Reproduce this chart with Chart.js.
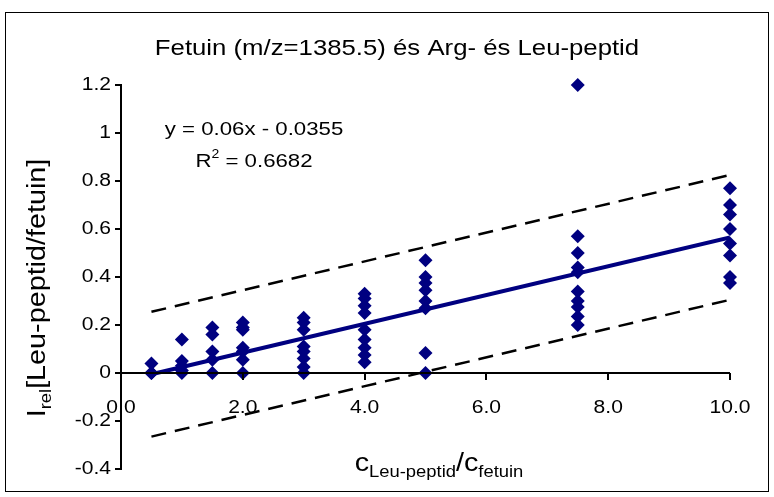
<!DOCTYPE html>
<html>
<head>
<meta charset="utf-8">
<script src="https://cdn.jsdelivr.net/npm/chart.js@4.4.1/dist/chart.umd.min.js"></script>
<style>
  body { margin: 0; background: #fff; }
  canvas { display: block; }
</style>
</head>
<body>
<canvas id="myChart" width="774" height="497"></canvas>
<script>
// measured points, grouped by concentration ratio
const conc = [0.5, 1, 1.5, 2, 3, 4, 5, 7.5, 10];
const irel_05 = [0.04, 0.0, 0.0];
const irel_1 = [0.14, 0.05, 0.03, 0.01, 0.0];
const irel_15 = [0.19, 0.16, 0.09, 0.055, 0.0];
const irel_2 = [0.21, 0.19, 0.18, 0.105, 0.09, 0.055, 0.0];
const irel_3 = [0.23, 0.21, 0.18, 0.11, 0.09, 0.06, 0.025, 0.0];
const irel_4 = [0.33, 0.31, 0.28, 0.25, 0.18, 0.14, 0.105, 0.075, 0.045];
const irel_5 = [0.47, 0.4, 0.375, 0.345, 0.3, 0.27, 0.083, 0.0];
const irel_75 = [1.2, 0.57, 0.5, 0.44, 0.42, 0.34, 0.3, 0.275, 0.235, 0.2];
const irel_10 = [0.77, 0.7, 0.66, 0.6, 0.54, 0.49, 0.4, 0.375];
const irelGroups = [irel_05, irel_1, irel_15, irel_2, irel_3, irel_4, irel_5, irel_75, irel_10];

// trend line and band ends (x from 0.5 to 10)
const lineX = [0.5, 10];
const trendY = [-0.0055, 0.5645];
const upperY = [0.255, 0.825];
const lowerY = [-0.265, 0.305];

const xTicks = [0, 2, 4, 6, 8, 10];
const yTicks = [-0.4, -0.2, 0, 0.2, 0.4, 0.6, 0.8, 1, 1.2];

const FONT = "'Liberation Sans', Arial, sans-serif";
const SX = 1.17; // text in the original is a bit wider than it is tall

const points = [];
conc.forEach((c, i) => {
  irelGroups[i].forEach((v) => points.push({ x: c, y: v }));
});
const toXY = (ys) => lineX.map((x, i) => ({ x: x, y: ys[i] }));

// draws text made of runs (sub/superscripts), stretched by sx
function drawRuns(ctx, runs, x, y, align, sx) {
  let total = 0;
  runs.forEach((r) => {
    ctx.font = r.size + "px " + FONT;
    r.w = ctx.measureText(r.t).width;
    total += r.w;
  });
  ctx.save();
  ctx.translate(x, y);
  ctx.scale(sx, 1);
  ctx.textAlign = "left";
  let cx = 0;
  if (align === "center") cx = -total / 2;
  if (align === "right") cx = -total;
  runs.forEach((r) => {
    ctx.font = r.size + "px " + FONT;
    ctx.fillText(r.t, cx, r.dy || 0);
    cx += r.w;
  });
  ctx.restore();
}

const decor = {
  id: "decor",
  afterDraw(chart) {
    const ctx = chart.ctx;
    const xs = chart.scales.x;
    const ys = chart.scales.y;
    const area = chart.chartArea;
    const y0 = ys.getPixelForValue(0);
    ctx.save();

    // outer frame
    ctx.strokeStyle = "#000";
    ctx.lineWidth = 1;
    ctx.strokeRect(5.5, 12.5, 763, 479);

    // x axis crossing at y = 0
    ctx.lineWidth = 2;
    ctx.beginPath();
    ctx.moveTo(area.left, y0);
    ctx.lineTo(area.right, y0);
    xTicks.forEach((t) => {
      const px = Math.round(xs.getPixelForValue(t));
      ctx.moveTo(px, y0);
      ctx.lineTo(px, y0 + 7);
    });
    ctx.stroke();

    ctx.fillStyle = "#000";
    ctx.textBaseline = "alphabetic";
    xTicks.forEach((t) => {
      drawRuns(ctx, [{ t: t.toFixed(1), size: 18 }], xs.getPixelForValue(t), y0 + 40, "center", SX);
    });

    // y tick labels
    ctx.textBaseline = "middle";
    yTicks.forEach((t) => {
      const label = String(Math.round(t * 10) / 10);
      drawRuns(ctx, [{ t: label, size: 18 }], area.left - 10, ys.getPixelForValue(t), "right", SX);
    });
    ctx.textBaseline = "alphabetic";

    // title
    drawRuns(ctx, [{ t: "Fetuin (m/z=1385.5) és Arg- és Leu-peptid", size: 22 }], 397, 55, "center", SX);

    // regression text
    drawRuns(ctx, [{ t: "y = 0.06x - 0.0355", size: 19 }], 254, 135, "center", SX);
    drawRuns(ctx, [
      { t: "R", size: 19 },
      { t: "2", size: 12, dy: -9 },
      { t: " = 0.6682", size: 19 },
    ], 254, 167, "center", SX);

    // x axis title
    drawRuns(ctx, [
      { t: "c", size: 25 },
      { t: "Leu-peptid", size: 16, dy: 6 },
      { t: "/c", size: 25 },
      { t: "fetuin", size: 16, dy: 6 },
    ], 439, 471, "center", 1.15);

    // y axis title
    ctx.translate(45, 288);
    ctx.rotate(-Math.PI / 2);
    drawRuns(ctx, [
      { t: "I", size: 25 },
      { t: "rel", size: 16, dy: 6 },
      { t: "[Leu-peptid/fetuin]", size: 25 },
    ], 0, 0, "center", 1.15);

    ctx.restore();
  },
};

const config = {
  type: "scatter",
  data: {
    datasets: [
      {
        data: points,
        pointStyle: "rectRot",
        radius: 7,
        backgroundColor: "#000080",
        borderColor: "#000080",
        borderWidth: 0,
        clip: false,
        order: 1,
      },
      {
        type: "line",
        data: toXY(trendY),
        borderColor: "#000080",
        borderWidth: 4,
        pointRadius: 0,
        order: 2,
      },
      {
        type: "line",
        data: toXY(upperY),
        borderColor: "#000",
        borderWidth: 2.5,
        borderDash: [15, 9],
        pointRadius: 0,
        order: 3,
      },
      {
        type: "line",
        data: toXY(lowerY),
        borderColor: "#000",
        borderWidth: 2.5,
        borderDash: [15, 9],
        pointRadius: 0,
        order: 3,
      },
    ],
  },
  options: {
    responsive: false,
    animation: false,
    layout: {
      padding: { top: 85, bottom: 28, right: 44, left: 0 },
    },
    scales: {
      x: {
        type: "linear",
        display: false,
        min: 0,
        max: 10,
      },
      y: {
        min: -0.4,
        max: 1.2,
        afterFit(scale) {
          scale.width = 121;
        },
        afterBuildTicks(scale) {
          scale.ticks = yTicks.map((v) => ({ value: v }));
        },
        border: { color: "#000", width: 2 },
        grid: {
          drawOnChartArea: false,
          drawTicks: true,
          tickLength: 6,
          color: "#000",
          lineWidth: 2,
        },
        ticks: {
          display: false,
        },
      },
    },
    plugins: {
      legend: { display: false },
      tooltip: { enabled: false },
    },
  },
  plugins: [decor],
};

var myChart = new Chart(document.getElementById("myChart"), config);
</script>
</body>
</html>
